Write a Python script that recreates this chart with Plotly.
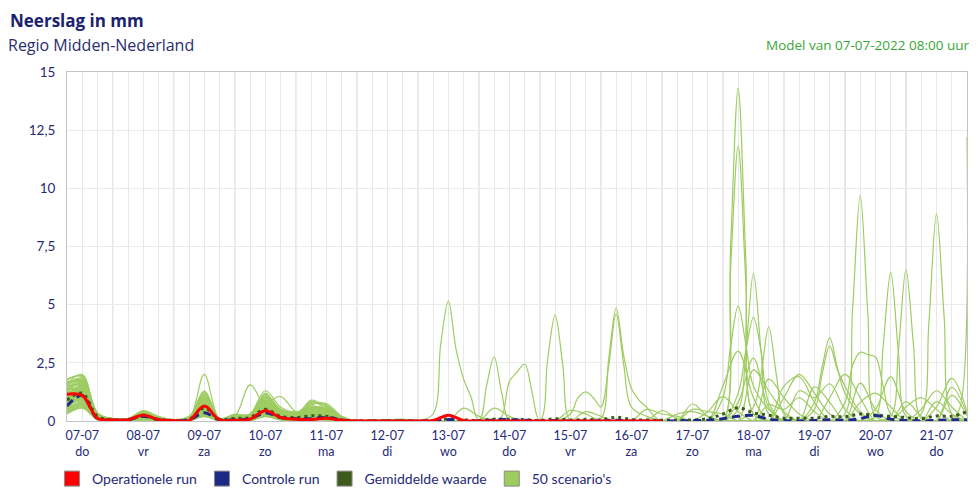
import pandas as pd
import plotly.graph_objects as go

# ---------------- data ----------------
START = "2022-07-07 06:00"
N_STEPS = 60  # 6-hourly steps (index 0 = 07-07 06:00)
TICK_DATES = ["07-07", "08-07", "09-07", "10-07", "11-07", "12-07", "13-07", "14-07",
              "15-07", "16-07", "17-07", "18-07", "19-07", "20-07", "21-07"]
TICK_DAYS = ["do", "vr", "za", "zo", "ma", "di", "wo", "do", "vr", "za", "zo", "ma", "di", "wo", "do"]

OPERATIONAL = [1.15, 1.1, .12, .05, .05, .26, .05, .02, .02, .64,
               .05, .03, .08, .44, .15, .08, .06, .12, .03, 0,
               0, 0, 0, 0, .02, .25, .02, 0, 0, 0,
               0, 0, 0, 0, 0, 0, 0, 0, 0, 0]

CONTROL = [.65, 1.1, .1, .05, .05, .2, .05, 0, .05, .35,
           .05, .05, .1, .35, .15, .1, .1, .15, .05, 0,
           0, 0, 0, 0, .02, .06, .02, 0, .05, .06,
           .03, 0, .02, 0, 0, 0, .03, 0, 0, 0,
           0, .02, .03, .1, .2, .24, .08, .02, 0, .02,
           .05, .03, .1, .24, .08, .02, 0, .03, .05, .05]

MEAN = [.9, 1.2, .2, .05, .05, .22, .07, .03, .07, .55,
        .07, .12, .15, .5, .2, .15, .22, .2, .05, 0,
        0, 0, 0, 0, .01, .1, .05, .02, .08, .07,
        .06, .02, .1, .04, .07, .05, .16, .06, .04, .03,
        .03, .05, .1, .3, .57, .35, .25, .12, .12, .12,
        .2, .18, .3, .25, .2, .15, .1, .22, .2, .4]

# first five days of the 50 scenarios (6-hourly)
SCEN_EARLY = [
    "1.8 1.9 .3 .1 .05 .3 .1 .05 .1 2.0 .1 .2 .2 1.0 .5 .3 .6 .4 .1 0",
    "1.6 2.0 .35 .1 .1 .4 .15 .05 .15 1.3 .1 .25 .15 1.2 .4 .3 .5 .5 .1 0",
    "1.5 1.8 .3 .05 .05 .35 .1 0 .1 1.2 .05 .15 .3 1.3 .6 .35 .8 .7 .2 0",
    "1.4 1.75 .25 .1 .05 .3 .1 .05 .1 1.1 .1 .2 .2 .9 .3 .2 .9 .6 .15 0",
    "1.3 1.7 .3 .1 .1 .45 .2 .05 .2 1.05 .1 .3 .25 1.1 .5 .4 .4 .3 .1 0",
    "1.7 1.6 .2 .05 .05 .25 .1 .05 .05 1.0 .05 .1 .1 .8 .3 .3 .7 .75 .2 0",
    "1.2 1.65 .25 .1 .05 .3 .1 0 .1 .95 .1 .2 1.55 .6 .2 .2 .5 .4 .1 0",
    "1.1 1.55 .2 .05 .05 .2 .05 0 .05 .9 .05 .15 .2 .7 1.05 .4 .3 .3 .1 0",
    "1.0 1.5 .3 .1 .1 .35 .1 .05 .15 .85 .1 .2 .2 1.0 .4 .3 .6 .55 .15 0",
    "0.9 1.45 .25 .1 .05 .3 .05 .05 .1 .8 .1 .1 .15 .9 .3 .2 .85 .5 .1 0",
    "0.8 1.4 .2 .05 .05 .25 .1 0 .1 .75 .05 .15 .1 .65 .3 .3 .4 .6 .15 0",
    "0.7 1.35 .25 .1 .1 .4 .1 .05 .15 .7 .1 .2 .2 .8 .4 .35 .55 .35 .1 0",
    "0.6 1.3 .2 .05 .05 .2 .05 .05 .05 .65 .05 .1 .1 .6 .25 .15 .45 .45 .1 0",
    "0.5 1.25 .3 .1 .05 .3 .1 0 .1 .6 .1 .25 .25 .75 .35 .25 .35 .25 .05 0",
    "0.4 1.2 .15 .05 .05 .15 .05 0 .05 .55 .05 .1 .1 .55 .2 .1 .3 .2 .05 0",
    "1.45 1.15 .2 .05 .05 .25 .1 .05 .1 .5 .1 .15 .15 .5 .3 .2 .4 .3 .1 0",
    "1.25 1.1 .25 .1 .1 .35 .15 .05 .15 .45 .1 .2 .2 .45 .25 .2 .25 .15 .05 0",
    "1.05 1.05 .2 .05 .05 .2 .05 0 .05 .4 .05 .1 .1 .4 .2 .15 .3 .25 .1 0",
    "0.95 1.0 .15 .05 .05 .15 .05 0 .05 .35 .05 .05 .05 .35 .15 .1 .2 .2 .05 0",
    "0.85 .95 .2 .05 .05 .25 .1 .05 .1 .3 .05 .15 .15 .3 .2 .1 .15 .1 .05 0",
    "0.75 .9 .15 .05 0 .2 .05 0 .05 .25 .05 .1 .1 .25 .1 .1 .1 .1 0 0",
    "0.65 .85 .1 .05 .05 .15 .05 0 .05 .2 .05 .05 .05 .2 .1 .05 .1 .05 0 0",
    "0.55 .8 .15 .05 .05 .1 .05 0 .05 .3 .05 .1 .1 .35 .15 .1 .2 .15 .05 0",
    "0.45 .7 .1 0 0 .1 0 0 .05 .25 0 .05 .05 .3 .1 .05 .15 .1 0 0",
    "0.35 .6 .1 0 0 .05 0 0 0 .2 0 .05 .05 .2 .05 .05 .1 .05 0 0",
    "1.55 1.85 .3 .1 .05 .3 .1 .05 .1 1.15 .1 .2 .25 1.05 .45 .3 .65 .5 .1 0",
    "1.35 1.6 .25 .05 .05 .3 .1 0 .1 .9 .05 .15 .15 .85 .35 .25 .5 .45 .1 0",
    "1.15 1.45 .2 .05 .05 .25 .05 .05 .05 .7 .05 .1 .1 .7 .3 .2 .4 .35 .1 0",
    "0.95 1.3 .2 .05 .05 .3 .1 0 .1 .6 .1 .2 .2 .6 .25 .2 .45 .4 .1 0",
    "0.75 1.15 .15 .05 .05 .2 .05 0 .05 .5 .05 .1 .1 .5 .2 .15 .35 .3 .05 0",
    "1.65 1.75 .3 .1 .1 .35 .1 .05 .15 .95 .1 .25 .2 .95 .4 .3 .55 .55 .15 0",
    "1.5 1.5 .25 .05 .05 .25 .1 .05 .1 .8 .05 .15 .15 .8 .35 .25 .45 .4 .1 0",
    "1.2 1.35 .2 .05 .05 .2 .05 0 .05 .65 .05 .1 .1 .65 .3 .2 .35 .3 .05 0",
    "1.0 1.2 .2 .05 .05 .25 .1 .05 .1 .55 .05 .15 .15 .55 .25 .15 .3 .25 .05 0",
    "0.85 1.05 .15 .05 .05 .2 .05 0 .05 .45 .05 .1 .1 .45 .2 .1 .25 .2 .05 0",
    "0.7 .95 .15 .05 .05 .15 .05 0 .05 .4 .05 .1 .1 .4 .15 .1 .2 .15 .05 0",
    "0.6 .9 .1 .05 0 .15 .05 0 .05 .35 .05 .05 .05 .35 .15 .1 .15 .1 0 0",
    "0.5 .75 .1 0 0 .1 .05 0 .05 .3 .05 .05 .05 .3 .1 .05 .1 .1 0 0",
    "0.4 .65 .1 0 0 .1 0 0 0 .25 0 .05 .05 .25 .1 .05 .1 .05 0 0",
    "0.3 .55 .05 0 0 .05 0 0 0 .2 0 0 0 .2 .05 0 .05 .05 0 0",
    "1.75 1.95 .35 .1 .1 .4 .15 .05 .15 1.25 .1 .25 .3 1.15 .5 .35 .75 .65 .15 0",
    "1.6 1.7 .3 .1 .05 .3 .1 .05 .1 1.05 .1 .2 .2 1.0 .45 .3 .6 .5 .1 0",
    "1.4 1.55 .25 .05 .05 .25 .1 .05 .1 .85 .05 .15 .15 .85 .35 .25 .5 .45 .1 0",
    "1.3 1.4 .2 .05 .05 .2 .05 0 .05 .75 .05 .1 .1 .75 .3 .2 .4 .35 .1 0",
    "1.1 1.25 .2 .05 .05 .2 .05 0 .05 .6 .05 .1 .1 .6 .25 .15 .35 .3 .05 0",
    "0.9 1.1 .15 .05 .05 .15 .05 0 .05 .5 .05 .1 .1 .5 .2 .15 .25 .2 .05 0",
    "0.8 1.0 .15 .05 0 .15 .05 0 .05 .45 .05 .05 .05 .4 .15 .1 .2 .15 .05 0",
    "0.65 .85 .1 0 0 .1 .05 0 .05 .35 .05 .05 .05 .35 .1 .05 .15 .1 0 0",
    "0.5 .7 .1 0 0 .1 0 0 0 .3 0 .05 .05 .3 .1 .05 .1 .05 0 0",
    "0.35 .6 .05 0 0 .05 0 0 0 .25 0 0 0 .25 .05 0 .05 .05 0 0",
]

# later non-zero values of each scenario: {step index (half steps = 3 h): mm}
SCEN_LATE = [
    {24: .3, 24.5: 3.3, 25: 5.15, 25.5: 3.1, 26: 1.8, 26.5: 1.0},
    {27.5: 1.5, 28: 2.75, 28.5: 1.2},
    {28.5: .2, 29: 1.7, 29.5: 2.1, 30: 2.45, 30.5: 1.2},
    {31.5: 2.6, 32: 4.55, 32.5: 2.4},
    {35: .1, 35.5: 2.6, 36: 4.85, 36.5: 2.8, 37: 1.4, 37.5: .9, 38: .6, 38.5: .2},
    {33: .3, 33.5: 1.0, 34: 1.25, 34.5: 1.0, 35: .6, 35.5: 2.3, 36: 4.6, 36.5: 2.4, 37: .6, 38: .2},
    {26: .55, 27: .2},
    {28: .55, 29: .2},
    {33: .45, 34: .3},
    {34: .4, 35: .2},
    {38: .5, 39: .3, 40: .2},
    {39: .45, 40: .1},
    {43.5: 7.5, 44: 14.3, 44.5: 7.0, 45: .3},
    {43.5: 6.5, 44: 11.8, 44.5: 6.0, 45: .3},
    {44: .5, 44.5: 3.0, 45: 6.35, 45.5: 3.0, 46: .3},
    {51: .3, 51.5: 4.8, 52: 9.7, 52.5: 4.6, 53: .2},
    {53: .2, 53.5: 3.2, 54: 6.4, 54.5: 3.0, 55: .2},
    {54: .2, 54.5: 3.0, 55: 6.5, 55.5: 3.2, 56: .1},
    {56: .3, 56.5: 4.2, 57: 8.9, 57.5: 4.5, 58: .3},
    {58: .1, 58.5: .5, 59: 12.2},
    {43: 1.0, 43.5: 3.2, 44: 4.95, 44.5: 3.3, 45: 1.5, 46: .5},
    {44: 1.2, 44.5: 3.0, 45: 4.45, 45.5: 3.0, 46: .8},
    {45: .6, 45.5: 2.0, 46: 4.05, 46.5: 2.0, 47: .3},
    {49: .8, 49.5: 2.3, 50: 3.57, 50.5: 2.3, 51: 1.2, 52: .3},
    {49: .5, 49.5: 2.0, 50: 3.22, 50.5: 2.2, 51: 1.5, 52: .4},
    {51: .8, 51.5: 2.4, 52: 2.95, 52.5: 2.85, 53: 2.75, 53.5: 1.5, 54: .3},
    {43: 1.5, 44: 3.0, 45: 1.0},
    {44: .8, 45: 2.7, 46: .6},
    {47: 1.0, 48: 2.0, 49: 1.2, 50: .3},
    {20: .05, 21: .05, 22: .08, 49: 1.47, 50: .8},
    {52: 1.63, 53: .5},
    {53: .5, 54: 1.9, 55: .4},
    {55: .83, 56: .2},
    {57: .83, 58: .3},
    {57: .6, 58: 1.83, 59: .4},
    {58: 1.45, 59: .3},
    {58: 1.1, 59: .2},
    {41: .73, 42: .2},
    {41: .5, 42: .4, 43: .3},
    {42: .4, 43: 1.05, 44: .4},
    {45: 2.2, 46: 1.3, 47: .4},
    {46: 1.8, 47: 1.0, 48: .3},
    {47: 1.5, 48: 1.9, 49: .8},
    {48: 1.3, 49: 1.0, 50: 1.6, 51: .5},
    {50: 1.0, 51: 2.0, 52: 1.0},
    {52: .8, 53: 1.2, 54: .6},
    {55: .6, 56: 1.0, 57: .5},
    {46: .7, 47: .5, 48: 1.0, 49: .4},
    {21: .05, 22: .05, 40: .3, 41: .4, 42: .2},
    {56: .5, 57: 1.3, 58: .6},
]

# ---------------- build ----------------
t0 = pd.Timestamp(START)
step = pd.Timedelta(hours=6)
times = pd.date_range(START, periods=N_STEPS, freq="6h")

scenarios = []
for early, late in zip(SCEN_EARLY, SCEN_LATE):
    vals = [float(v) for v in early.split()]
    pts = {i: (vals[i] if i < len(vals) else 0.0) for i in range(N_STEPS)}
    pts.update(late)
    keys = sorted(pts)
    scenarios.append(([t0 + step * k for k in keys], [pts[k] for k in keys]))

NAVY = "#1f2a78"
SCEN_COLOR = "#9ecc62"
TICK_FONT = "Lato"
TEXT_FONT = "Open Sans"

fig = go.Figure()
for xs, ys in scenarios:
    fig.add_trace(go.Scatter(x=xs, y=ys, mode="lines", showlegend=False, hoverinfo="skip",
                             line=dict(color=SCEN_COLOR, width=1.2, shape="spline", smoothing=1.0)))
fig.add_trace(go.Scatter(x=times, y=MEAN, mode="lines", showlegend=False,
                         line=dict(color="#3b5a1c", width=3, dash="3px,4px", shape="spline")))
fig.add_trace(go.Scatter(x=times, y=CONTROL, mode="lines", showlegend=False,
                         line=dict(color="#1c2a86", width=3, dash="8px,5px", shape="spline")))
fig.add_trace(go.Scatter(x=times[:len(OPERATIONAL)], y=OPERATIONAL, mode="lines", showlegend=False,
                         line=dict(color="#ff0000", width=3, shape="spline")))

LEGEND_NAMES = ["Operationele run", "Controle run", "Gemiddelde waarde", "50 scenario's"]
LEGEND_COLORS = ["#ff0000", "#1c2a86", "#3e5a1c", "#9ccb5e"]
for name, col in zip(LEGEND_NAMES, LEGEND_COLORS):
    fig.add_trace(go.Scatter(x=[None], y=[None], mode="markers", name=name,
                             marker=dict(symbol="square", size=15, color=col,
                                         line=dict(color="#8a8a8a", width=1))))

tickvals = pd.date_range("2022-07-07 12:00", periods=len(TICK_DATES), freq="D")
ticktext = [f"{d}<br>{w}" for d, w in zip(TICK_DATES, TICK_DAYS)]
midnights = pd.date_range("2022-07-08 00:00", "2022-07-21 00:00", freq="D")

shapes = [dict(type="line", xref="x", yref="paper", x0=m, x1=m, y0=0, y1=1,
               line=dict(color="#c6c6c6", width=1), layer="below") for m in midnights]

fig.update_layout(
    width=978, height=491,
    margin=dict(l=67, r=11, t=72, b=70, autoexpand=False),
    paper_bgcolor="white", plot_bgcolor="white",
    separators=",.",
    font=dict(family=TICK_FONT, color=NAVY, size=13),
    shapes=shapes,
    showlegend=True,
    legend=dict(orientation="h", xref="container", yref="container",
                x=52 / 978, xanchor="left", y=1 - 479 / 491, yanchor="middle",
                font=dict(size=14, color=NAVY, family=TICK_FONT), itemwidth=30,
                tracegroupgap=0, bgcolor="rgba(0,0,0,0)"),
    annotations=[
        dict(text="<b>Neerslag in mm</b>", xref="paper", yref="paper", x=-0.0656, y=(421 - 20) / 349,
             xanchor="left", yanchor="middle", showarrow=False,
             font=dict(size=17, color="#1b2270", family=TEXT_FONT)),
        dict(text="Regio Midden-Nederland", xref="paper", yref="paper", x=-0.068, y=(421 - 45) / 349,
             xanchor="left", yanchor="middle", showarrow=False,
             font=dict(size=16, color="#2b2d70", family=TEXT_FONT)),
        dict(text="Model van 07-07-2022 08:00 uur", xref="paper", yref="paper", x=1.005, y=(421 - 45) / 349,
             xanchor="right", yanchor="middle", showarrow=False,
             font=dict(size=13.5, color="#3aa536", family=TEXT_FONT)),
    ],
)
fig.update_xaxes(
    range=["2022-07-07 06:00", "2022-07-22 00:00"],
    tickmode="array", tickvals=tickvals, ticktext=ticktext,
    showgrid=True, gridcolor="#e8e8e8", gridwidth=1,
    minor=dict(dtick=6 * 3600 * 1000, tick0="2022-07-07 00:00", showgrid=True, gridcolor="#e8e8e8"),
    showline=True, linecolor="#c4c4c4", linewidth=1, mirror=True,
    zeroline=False, ticks="", ticklabelstandoff=3, tickfont=dict(size=12.5, color=NAVY),
)
fig.update_yaxes(
    range=[0, 15], tick0=0, dtick=2.5,
    showgrid=True, gridcolor="#ebebeb", gridwidth=1,
    showline=True, linecolor="#c4c4c4", linewidth=1, mirror=True,
    zeroline=False, ticks="", ticklabelstandoff=8,
    tickfont=dict(size=13.5, color=NAVY),
)

fig.write_html("out.html", config={"displayModeBar": False},
               post_script="document.body.style.margin='0';")
